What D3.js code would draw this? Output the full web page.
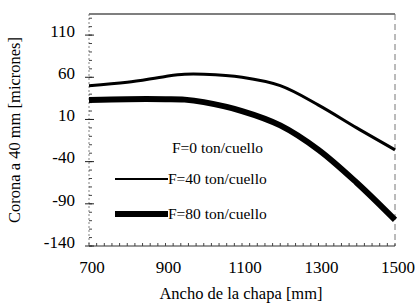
<!DOCTYPE html>
<html>
<head>
<meta charset="utf-8">
<script src="https://cdn.jsdelivr.net/npm/d3@7"></script>
<style>
  body { margin: 0; background: #fff; }
  svg { font-family: "Liberation Serif", "Times New Roman", serif; }
</style>
</head>
<body>
<svg id="chart" width="416" height="307"></svg>
<script>
// data
var anchos = [700, 800, 900, 950, 1000, 1100, 1200, 1300, 1400, 1500];
var coronaF40 = [50, 54, 61, 63.5, 63.5, 60, 50, 27, 0, -26];
var coronaF80 = [33, 34, 34, 33.5, 30.5, 20, 3, -26, -65, -109];
var yTicks = [-140, -90, -40, 10, 60, 110];
var xTicks = [700, 900, 1100, 1300, 1500];
var legendLabels = ['F=0 ton/cuello', 'F=40 ton/cuello', 'F=80 ton/cuello'];

var svg = d3.select('#chart');

var x = d3.scaleLinear().domain([700, 1500]).range([89, 395]);
var y = d3.scaleLinear().domain([-140, 135]).range([246, 14]);

// frame: top solid, right dashed
svg.append('line')
  .attr('x1', x(700)).attr('x2', x(1500))
  .attr('y1', y(135)).attr('y2', y(135))
  .attr('stroke', '#555').attr('stroke-width', 1.5);
svg.append('line')
  .attr('x1', x(1500)).attr('x2', x(1500))
  .attr('y1', y(135)).attr('y2', y(-140))
  .attr('stroke', '#777').attr('stroke-width', 1)
  .attr('stroke-dasharray', '6,4');

// y axis with minor ticks
var yAxis = svg.append('g').attr('class', 'yAxis');
yAxis.append('line')
  .attr('x1', x(700)).attr('x2', x(700))
  .attr('y1', y(135)).attr('y2', y(-140))
  .attr('stroke', '#666').attr('stroke-width', 0.8).attr('stroke-dasharray', '2,2');
yAxis.selectAll('.minor').data(d3.range(-140, 136, 10)).enter().append('line')
  .attr('x1', x(700)).attr('x2', x(700) + 3)
  .attr('y1', function(d) { return y(d); }).attr('y2', function(d) { return y(d); })
  .attr('stroke', '#444').attr('stroke-width', 1);
yAxis.selectAll('.major').data(yTicks).enter().append('line')
  .attr('x1', x(700) - 4).attr('x2', x(700) + 5)
  .attr('y1', function(d) { return y(d); }).attr('y2', function(d) { return y(d); })
  .attr('stroke', '#222').attr('stroke-width', 1);
yAxis.selectAll('text').data(yTicks).enter().append('text')
  .attr('x', 75)
  .attr('y', function(d) { return y(d); })
  .attr('dy', '0.1em')
  .attr('text-anchor', 'end')
  .attr('font-size', 17)
  .text(function(d) { return d; });

// x axis with minor ticks
var xAxis = svg.append('g').attr('class', 'xAxis');
xAxis.append('line')
  .attr('x1', x(700)).attr('x2', x(1500))
  .attr('y1', y(-140)).attr('y2', y(-140))
  .attr('stroke', '#333').attr('stroke-width', 1.2);
xAxis.selectAll('.minor').data(d3.range(700, 1501, 20)).enter().append('line')
  .attr('x1', function(d) { return x(d); }).attr('x2', function(d) { return x(d); })
  .attr('y1', y(-140)).attr('y2', y(-140) - 3)
  .attr('stroke', '#444').attr('stroke-width', 1);
xAxis.selectAll('text').data(xTicks).enter().append('text')
  .attr('x', function(d) { return x(d) + 3; })
  .attr('y', 273)
  .attr('text-anchor', 'middle')
  .attr('font-size', 17)
  .text(function(d) { return d; });

// axis titles
svg.append('text')
  .attr('transform', 'translate(20,130) rotate(-90)')
  .attr('text-anchor', 'middle')
  .attr('font-size', 16.5)
  .text('Corona a 40 mm [micrones]');
svg.append('text')
  .attr('x', 241).attr('y', 299)
  .attr('text-anchor', 'middle')
  .attr('font-size', 16.5)
  .text('Ancho de la chapa [mm]');

// curves
var line = d3.line()
  .x(function(d) { return x(d[0]); })
  .y(function(d) { return y(d[1]); })
  .curve(d3.curveCatmullRom);

svg.append('path')
  .datum(d3.zip(anchos, coronaF40))
  .attr('fill', 'none').attr('stroke', '#000').attr('stroke-width', 3)
  .attr('d', line);
svg.append('path')
  .datum(d3.zip(anchos, coronaF80))
  .attr('fill', 'none').attr('stroke', '#000').attr('stroke-width', 6)
  .attr('d', line);

// legend
var legend = svg.append('g').attr('class', 'legend');
var legendWidths = [0, 2, 6];
var legendY = [148, 179, 214];
legendLabels.forEach(function(label, i) {
  var ly = legendY[i];
  if (legendWidths[i] > 0) {
    legend.append('line')
      .attr('x1', 115).attr('x2', 168)
      .attr('y1', ly).attr('y2', ly)
      .attr('stroke', '#000').attr('stroke-width', legendWidths[i]);
  }
  legend.append('text')
    .attr('x', i === 0 ? 172 : 168)
    .attr('y', ly)
    .attr('dy', '0.35em')
    .attr('font-size', 15.5)
    .text(label);
});
</script>
</body>
</html>
